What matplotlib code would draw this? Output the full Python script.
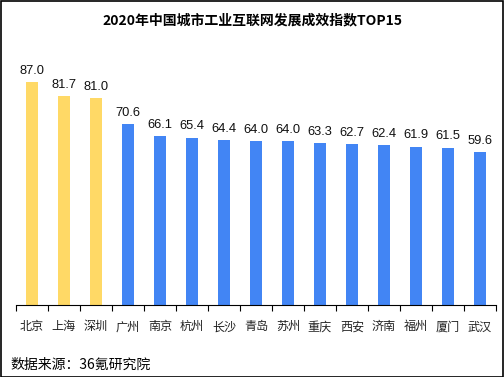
import matplotlib
matplotlib.use("Agg")
import matplotlib.pyplot as plt
from matplotlib.patches import Rectangle

plt.rcParams['font.family'] = ['Noto Sans CJK SC', 'DejaVu Sans']

cities = ["北京", "上海", "深圳", "广州", "南京", "杭州", "长沙", "青岛", "苏州",
          "重庆", "西安", "济南", "福州", "厦门", "武汉"]
values = [87.0, 81.7, 81.0, 70.6, 66.1, 65.4, 64.4, 64.0, 64.0,
          63.3, 62.7, 62.4, 61.9, 61.5, 59.6]
highlight_n = 3
yellow = "#FFD966"
blue = "#4285F4"
colors = [yellow if i < highlight_n else blue for i in range(len(values))]

W, H = 504, 377
fig = plt.figure(figsize=(W / 100, H / 100), dpi=100)
ax = fig.add_axes([16 / W, 72 / H, 480 / W, 256 / H])
x = list(range(len(values)))
ax.bar(x, values, width=0.375, color=colors)
ax.set_xlim(-0.5, len(values) - 0.5)
ax.set_ylim(0, 100)
for xi, v in zip(x, values):
    ax.text(xi, v + 2.0, f"{v:.1f}", ha="center", va="bottom", fontsize=9.3,
            family=['Liberation Sans', 'DejaVu Sans'], color="#111111")
for s in ["top", "right", "left"]:
    ax.spines[s].set_visible(False)
ax.spines["bottom"].set_color("black")
ax.spines["bottom"].set_linewidth(0.8)
ax.set_yticks([])
ax.set_xticks([i - 0.5 for i in range(len(values) + 1)], minor=False)
ax.set_xticklabels([])
ax.tick_params(axis="x", length=4, width=0.8, direction="out")
for xi, c in zip(x, cities):
    ax.text(xi, -6.0, c, ha="center", va="top", fontsize=8.7, color="#222222")

fig.text(252 / W, 1 - 20 / H, "2020年中国城市工业互联网发展成效指数TOP15", ha="center",
         va="center", fontsize=10, fontweight="bold")
fig.text(10 / W, 1 - 365 / H, "数据来源：36氪研究院", ha="left", va="center", fontsize=10)
fig.patches.append(Rectangle((0.5 / W, 0.5 / H), 1 - 1.5 / W, 1 - 1.5 / H,
                             transform=fig.transFigure, fill=False,
                             edgecolor="black", linewidth=1.2))
fig.savefig("out.png", dpi=100)
